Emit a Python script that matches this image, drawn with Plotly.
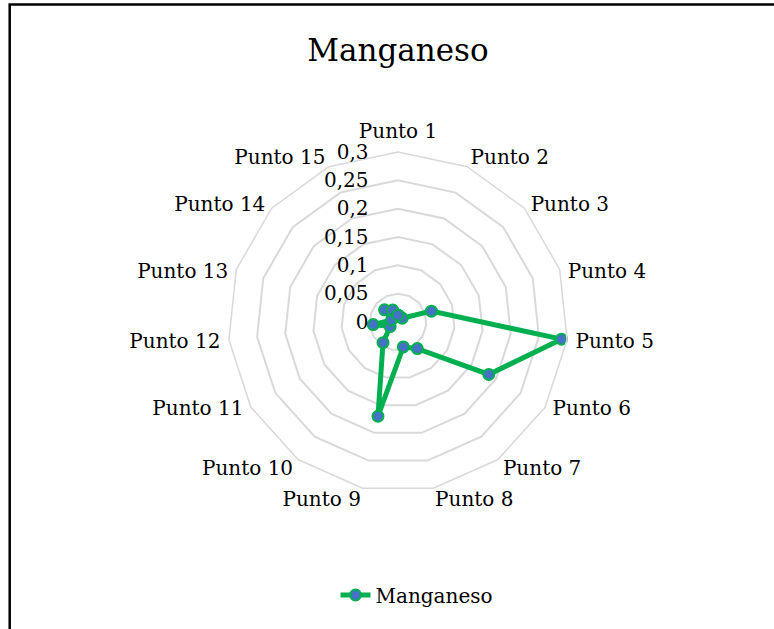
import plotly.graph_objects as go

categories = ["Punto 1", "Punto 2", "Punto 3", "Punto 4", "Punto 5", "Punto 6", "Punto 7",
              "Punto 8", "Punto 9", "Punto 10", "Punto 11", "Punto 12", "Punto 13",
              "Punto 14", "Punto 15"]
manganeso = [0.012, 0.010, 0.010, 0.062, 0.290, 0.185, 0.058, 0.045, 0.170, 0.045,
             0.016, 0.044, 0.012, 0.032, 0.023]
radial_ticks = [0, 0.05, 0.1, 0.15, 0.2, 0.25, 0.3]
radial_labels = ["0", "0,05", "0,1", "0,15", "0,2", "0,25", "0,3"]

W, H = 774, 629
cx, cy, R = 398, 322, 170
FONT = "DejaVu Serif"

# Excel puts the category labels a bit closer vertically than Plotly does:
# draw them on label-only polar subplots, each nudged vertically (pixels, + = up)
label_groups = [
    (["Punto 2", "Punto 3", "Punto 4", "Punto 13", "Punto 14", "Punto 15"], -6),
    (["Punto 1", "Punto 5", "Punto 12"], 2),
    (["Punto 6", "Punto 7", "Punto 8", "Punto 9", "Punto 10", "Punto 11"], 12),
]

fig = go.Figure()
fig.add_trace(go.Scatterpolar(
    r=manganeso + manganeso[:1],
    theta=categories + categories[:1],
    mode="lines+markers",
    name="Manganeso",
    line=dict(color="#00B050", width=5),
    marker=dict(size=11, color="#4472C4", line=dict(color="#00B050", width=2)),
    subplot="polar",
))

dom = dict(x=[(cx - R) / W, (cx + R) / W], y=[(H - cy - R) / H, (H - cy + R) / H])

layout_polars = {}
for i, (group, up) in enumerate(label_groups):
    name = "polar%d" % (i + 2)
    fig.add_trace(go.Scatterpolar(
        r=manganeso, theta=categories, mode="markers", opacity=0,
        showlegend=False, hoverinfo="skip", subplot=name,
    ))
    layout_polars[name] = dict(
        domain=dict(x=dom["x"], y=[(H - cy - R + up) / H, (H - cy + R + up) / H]),
        gridshape="linear",
        bgcolor="rgba(0,0,0,0)",
        angularaxis=dict(
            type="category", categoryorder="array", categoryarray=categories,
            direction="clockwise", rotation=90,
            showgrid=False, showline=False,
            tickmode="array", tickvals=group, ticktext=group,
            ticks="outside", ticklen=4, tickcolor="rgba(0,0,0,0)",
            tickfont=dict(family=FONT, size=20, color="black"),
        ),
        radialaxis=dict(range=[0, 0.3], visible=False, showgrid=False),
    )

fig.update_layout(
    width=W, height=H,
    margin=dict(l=0, r=0, t=0, b=0),
    paper_bgcolor="white",
    plot_bgcolor="white",
    font=dict(family=FONT, color="black", size=20),
    title=dict(text="Manganeso", x=cx / W, xanchor="center", y=1 - 50 / H, yanchor="middle",
               font=dict(family=FONT, size=31, color="black")),
    showlegend=True,
    legend=dict(orientation="h", x=417 / W, xanchor="center", y=1 - 595 / H, yanchor="middle",
                font=dict(family=FONT, size=20, color="black"), bgcolor="rgba(0,0,0,0)"),
    polar=dict(
        domain=dom,
        gridshape="linear",
        bgcolor="white",
        angularaxis=dict(
            direction="clockwise", rotation=90,
            showgrid=False, showline=True, linecolor="#D9D9D9", linewidth=1.5,
            ticks="", showticklabels=False,
        ),
        radialaxis=dict(
            range=[0, 0.3], angle=90, tickangle=90,
            tickvals=radial_ticks, ticktext=radial_labels,
            showline=False, showgrid=True, gridcolor="#D9D9D9", gridwidth=1.5,
            ticks="outside", ticklen=22, tickcolor="rgba(0,0,0,0)",
            side="counterclockwise",
            tickfont=dict(family=FONT, size=20, color="black"),
        ),
    ),
    shapes=[dict(type="rect", xref="paper", yref="paper",
                 x0=9.7 / W, x1=1.2, y0=-0.2, y1=1 - 4.5 / H,
                 line=dict(color="black", width=2.5), fillcolor="rgba(0,0,0,0)", layer="above")],
    **layout_polars,
)

fig.write_html("out.html", config={"displayModeBar": False},
               post_script="document.body.style.margin='0px';")
